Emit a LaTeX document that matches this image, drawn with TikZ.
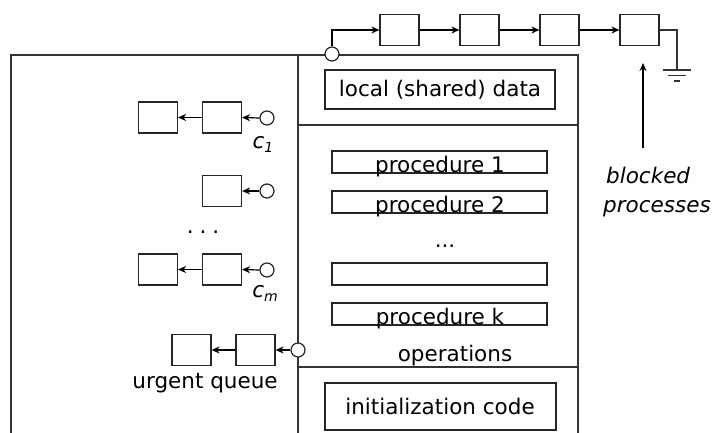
\documentclass[tikz,border=0pt]{standalone}
\usepackage{fontspec}
\setmainfont{DejaVu Sans}
\usetikzlibrary{arrows.meta}
\tikzset{
  frame/.style={line width=1.3pt, draw=black!80},
  qbox/.style={draw=black!85, line width=1.2pt, minimum width=39pt, minimum height=31pt, inner sep=0pt},
  tbox/.style={draw=black!85, line width=1.2pt, inner sep=0pt},
  portc/.style={circle, draw=black!85, line width=1.2pt, fill=white, minimum size=14pt, inner sep=0pt},
  arr/.style={line width=1.2pt, -{Stealth[length=8pt,width=7pt]}},
  wire/.style={line width=1.2pt, draw=black!80},
  lbl/.style={font=\fontsize{21.5}{25}\selectfont, inner sep=0pt},
  ilbl/.style={font=\fontsize{21.5}{25}\selectfont\itshape, inner sep=0pt}
}
\begin{document}
\begin{tikzpicture}[x=1pt,y=-1pt]
\useasboundingbox (0,0) rectangle (719,432);
% frames
\draw[frame] (11,440) -- (11,55) -- (578,55) -- (578,440);
\draw[frame] (298,55) -- (298,440);
\draw[frame] (298,125) -- (578,125);
\draw[frame] (298,367) -- (578,367);
% local data
\node[tbox, minimum width=230pt, minimum height=39pt] (ld) at (440,89.5) {};
\node[lbl] (ldt) at (440,89.5) {local (shared) data};
% procedures
\node[tbox, minimum width=215pt, minimum height=22pt] (p1) at (439.5,162) {};
\node[lbl, anchor=base] (p1t) at (440,172) {procedure 1};
\node[tbox, minimum width=215pt, minimum height=22pt] (p2) at (439.5,202) {};
\node[lbl, anchor=base] (p2t) at (440,212) {procedure 2};
\node[lbl, anchor=base] (pd) at (445,247) {...};
\node[tbox, minimum width=215pt, minimum height=22pt] (p3) at (439.5,274) {};
\node[tbox, minimum width=215pt, minimum height=22pt] (pk) at (439.5,314) {};
\node[lbl, anchor=base] (pkt) at (440,324) {procedure k};
\node[lbl, anchor=base] (ops) at (455,361) {operations};
% initialization
\node[tbox, minimum width=231pt, minimum height=47pt] (init) at (440.5,406.5) {};
\node[lbl] (initt) at (440,406) {initialization code};
% entry queue
\node[portc] (t0) at (332,54) {};
\node[qbox] (q1) at (399.5,30) {};
\node[qbox] (q2) at (479.5,30) {};
\node[qbox] (q3) at (559.5,30) {};
\node[qbox] (q4) at (639.5,30) {};
\draw[arr] (t0.north) |- (q1.west);
\draw[arr] (q1.east) -- (q2.west);
\draw[arr] (q2.east) -- (q3.west);
\draw[arr] (q3.east) -- (q4.west);
\coordinate (gnd) at (677,70);
\draw[wire] (q4.east) -| (gnd);
\draw[wire] (663,70) -- (691,70);
\draw[wire] (668,75.5) -- (686,75.5);
\draw[wire] (674,81) -- (680,81);
% blocked processes
\coordinate (bpa) at (643,148);
\coordinate (bpb) at (643,63);
\draw[arr] (bpa) -- (bpb);
\node[ilbl, anchor=base west] (bl1) at (606,183) {blocked};
\node[ilbl, anchor=base west] (bl2) at (603,212) {processes};
% condition c1
\node[portc] (c1) at (267,118) {};
\node[qbox] (c1b2) at (222,117.5) {};
\node[qbox] (c1b1) at (158,117.5) {};
\draw[arr] (c1.west) -- (c1b2.east);
\draw[arr] (c1b2.west) -- (c1b1.east);
\node[ilbl, anchor=base] (c1l) at (263,148) {c\raisebox{-0.35ex}{\fontsize{14}{14}\selectfont 1}};
% condition c2
\node[portc] (c2) at (267,191) {};
\node[qbox] (c2b2) at (222,191) {};
\draw[arr] (c2.west) -- (c2b2.east);
\node[lbl, anchor=base] (cd) at (203,233) {.\hspace{6pt}.\hspace{6pt}.};
% condition cm
\node[portc] (cm) at (267,270) {};
\node[qbox] (cmb2) at (222,269.5) {};
\node[qbox] (cmb1) at (158,269.5) {};
\draw[arr] (cm.west) -- (cmb2.east);
\draw[arr] (cmb2.west) -- (cmb1.east);
\node[ilbl, anchor=base] (cml) at (265,297) {c\raisebox{-0.35ex}{\fontsize{14}{14}\selectfont m}};
% urgent queue
\node[portc] (u0) at (298,350) {};
\node[qbox] (ub2) at (255.5,350) {};
\node[qbox] (ub1) at (191.5,350) {};
\draw[arr] (u0.west) -- (ub2.east);
\draw[arr] (ub2.west) -- (ub1.east);
\node[lbl, anchor=base] (ul) at (205,388) {urgent queue};
\end{tikzpicture}
\end{document}
